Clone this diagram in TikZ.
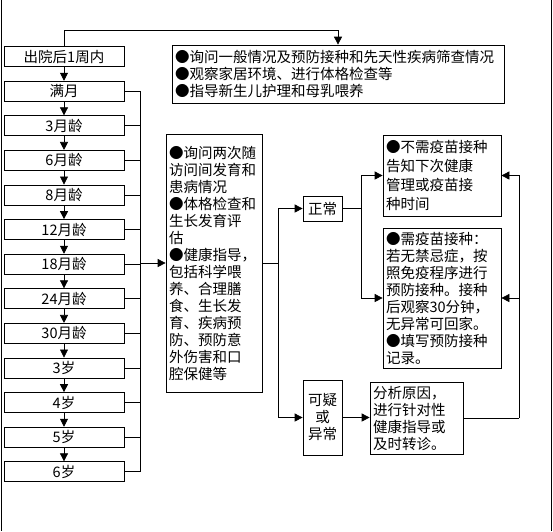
\documentclass[tikz,border=0pt]{standalone}
\usepackage{fontspec}
\setmainfont{Noto Sans CJK SC}
\usetikzlibrary{positioning, arrows.meta}

\begin{document}
\begin{tikzpicture}[
            x = 1pt, y = -1pt,
            > = {Triangle[width=8pt,length=8pt]},
            line width = 0.7pt,
            node distance = 34.6pt,
            on grid,
            font = \fontsize{14.5}{17}\selectfont,
            visit/.style = {draw, minimum width=120pt, minimum height=20pt, inner sep=0pt},
            box/.style = {draw, align=left, inner sep=3pt},
            result/.style = {draw, align=center, minimum width=39pt, inner sep=2pt}
        ]
            \useasboundingbox (0,0) rectangle (553,531);

            % Frame
            \draw (1,0) -- (1,531);
            \draw (551,0) -- (551,531);

            % Visits
            \node[visit] (d7) at (64,56.5) {出院后1周内};
            \node[visit] (m1) [below=of d7] {满月};
            \node[visit] (m3) [below=of m1] {3月龄};
            \node[visit] (m6) [below=of m3] {6月龄};
            \node[visit] (m8) [below=of m6] {8月龄};
            \node[visit] (m12) [below=of m8] {12月龄};
            \node[visit] (m18) [below=of m12] {18月龄};
            \node[visit] (m24) [below=of m18] {24月龄};
            \node[visit] (m30) [below=of m24] {30月龄};
            \node[visit] (y3) [below=of m30] {3岁};
            \node[visit] (y4) [below=of y3] {4岁};
            \node[visit] (y5) [below=of y4] {5岁};
            \node[visit] (y6) [below=of y5] {6岁};

            % Contents
            \node[box, text width=326pt, minimum height=58pt] (home) at (338,74)
                {●询问一般情况及预防接种和先天性疾病筛查情况\\●观察家居环境、进行体格检查等\\●指导新生儿护理和母乳喂养};
            \node[box, text width=90pt, minimum height=258pt] (check) at (214,263)
                {●询问两次随\\访问间发育和\\患病情况\\●体格检查和\\生长发育评\\估\\●健康指导，\\包括科学喂\\养、合理膳\\食、生长发\\育、疾病预\\防、预防意\\外伤害和口\\腔保健等};
            \node[result, minimum height=25pt] (ok) at (322.5,208.5) {正常};
            \node[result, minimum height=75pt] (bad) at (322.5,417.5) {可疑\\或\\异常};
            \node[box, text width=112pt, minimum height=81pt, font=\fontsize{14.5}{19}\selectfont] (novac) at (442,175.5)
                {●不需疫苗接种\\告知下次健康\\管理或疫苗接\\种时间};
            \node[box, text width=112pt, minimum height=140pt] (vac) at (442,298)
                {●需疫苗接种：\\若无禁忌症，按\\照免疫程序进行\\预防接种。接种\\后观察30分钟，\\无异常可回家。\\●填写预防接种\\记录。};
            \node[box, text width=87pt, minimum height=72pt] (refer) at (416.5,418)
                {分析原因，\\进行针对性\\健康指导或\\及时转诊。};

            % Visit chain
            \draw[->] (d7) -- (m1);
            \draw[->] (m1) -- (m3);
            \draw[->] (m3) -- (m6);
            \draw[->] (m6) -- (m8);
            \draw[->] (m8) -- (m12);
            \draw[->] (m12) -- (m18);
            \draw[->] (m18) -- (m24);
            \draw[->] (m24) -- (m30);
            \draw[->] (m30) -- (y3);
            \draw[->] (y3) -- (y4);
            \draw[->] (y4) -- (y5);
            \draw[->] (y5) -- (y6);

            % First visit
            \coordinate (top) at (0,30);
            \draw[->] (d7.north) |- (top -| home.north) -- (home.north);

            % Collect the later visits
            \coordinate (bus) at (140,0);
            \draw (m1.east) -- (m1.east -| bus) -- (y6.east -| bus) -- (y6.east);
            \draw (m3.east) -- (m3.east -| bus);
            \draw (m6.east) -- (m6.east -| bus);
            \draw (m8.east) -- (m8.east -| bus);
            \draw (m12.east) -- (m12.east -| bus);
            \draw (m18.east) -- (m18.east -| bus);
            \draw (m24.east) -- (m24.east -| bus);
            \draw (m30.east) -- (m30.east -| bus);
            \draw (y3.east) -- (y3.east -| bus);
            \draw (y4.east) -- (y4.east -| bus);
            \draw (y5.east) -- (y5.east -| bus);
            \draw[->] (check.west -| bus) -- (check.west);

            % Outcome
            \coordinate (split) at (278,0);
            \draw[->] (check.east) -- (check.east -| split) |- (ok.west);
            \draw[->] (check.east -| split) |- (bad.west);

            \coordinate (fork) at (361,0);
            \draw (ok.east) -- (ok.east -| fork);
            \draw[->] (ok.east -| fork) |- (novac.west);
            \draw[->] (ok.east -| fork) |- (vac.west);

            \draw[->] (bad.east) -- (bad.east -| refer.west);

            % Back to vaccination
            \coordinate (back) at (519,0);
            \draw (refer.east) -- (refer.east -| back);
            \draw[->] (refer.east -| back) |- (novac.east);
            \draw[->] (vac.east -| back) -- (vac.east);

        \end{tikzpicture}
\end{document}
